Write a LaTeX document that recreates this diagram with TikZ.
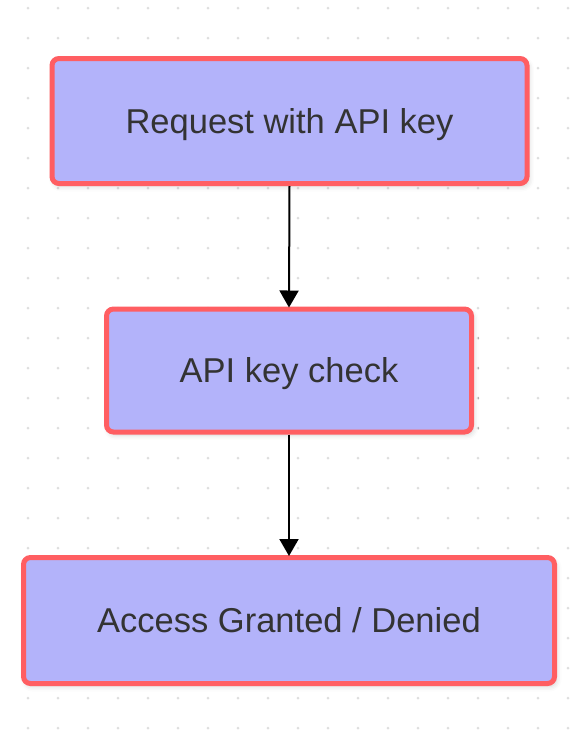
\documentclass[tikz,border=0pt]{standalone}
\usepackage{fontspec}
\setmainfont{Liberation Sans}
\usetikzlibrary{arrows.meta,shadows.blur}
\definecolor{boxfill}{RGB}{179,179,250}
\definecolor{boxline}{RGB}{255,94,98}
\definecolor{txt}{RGB}{51,51,51}
\definecolor{dotc}{RGB}{222,222,222}
\tikzset{
  flowbox/.style={draw=boxline, fill=boxfill, line width=5pt, rounded corners=7pt,
    text=txt, font=\fontsize{34.5}{40}\selectfont, inner sep=0pt,
    text height=28pt, text depth=4pt,
    blur shadow={shadow xshift=2pt, shadow yshift=-3pt, shadow blur radius=5pt, shadow opacity=18}},
  flowarrow/.style={line width=2pt, draw=black, -{Triangle[width=19pt,length=17pt]}, shorten >=-1pt}
}
\begin{document}
\begin{tikzpicture}[x=1pt,y=-1pt]
\useasboundingbox (0,0) rectangle (583,740);
\foreach \i in {0,...,18}{
  \foreach \j in {0,...,24}{
    \fill[dotc] (28+30*\i,8+30*\j) circle (1.5);
  }
}
\node[flowbox, minimum width=475pt, minimum height=125pt] (req) at (289.5,121) {Request with API key};
\node[flowbox, minimum width=365pt, minimum height=123pt] (chk) at (289,370.5) {API key check};
\node[flowbox, minimum width=531pt, minimum height=126pt] (acc) at (289,620.5) {Access Granted / Denied};
\draw[flowarrow] (req.south) -- (chk.north);
\draw[flowarrow] (chk.south) -- (acc.north);
\end{tikzpicture}
\end{document}
